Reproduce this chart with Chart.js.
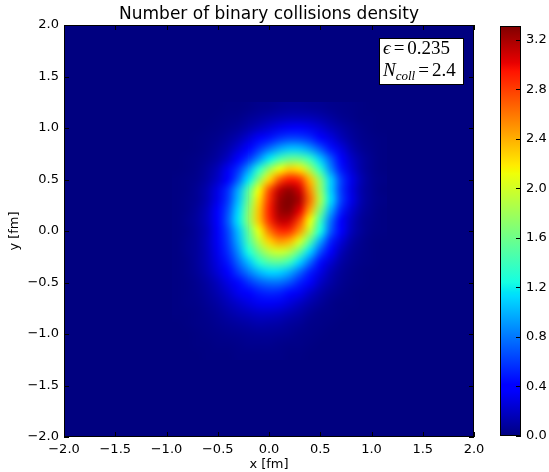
<!DOCTYPE html>
<html>
<head>
<meta charset="utf-8">
<script src="https://cdn.jsdelivr.net/npm/chart.js@4.4.1/dist/chart.umd.min.js"></script>
<style>
  body { margin: 0; background: #fff; }
  #wrap { position: relative; width: 549px; height: 472px; }
  #main { position: absolute; left: 0; top: 0; }
  #cbar { position: absolute; left: 490px; top: 0; }
</style>
</head>
<body>
<div id="wrap">
  <canvas id="main" width="490" height="472"></canvas>
  <canvas id="cbar" width="59" height="472"></canvas>
</div>
<script>
// cell centres in fm (columns left to right, rows top to bottom)
const xCenters = [-0.9, -0.8, -0.7, -0.6, -0.5, -0.4, -0.3, -0.2, -0.1, 0.0, 0.1, 0.2, 0.3, 0.4, 0.5, 0.6, 0.7, 0.8, 0.9, 1.0, 1.1];
const yCenters = [1.2, 1.1, 1.0, 0.9, 0.8, 0.7, 0.6, 0.5, 0.4, 0.3, 0.2, 0.1, 0.0, -0.1, -0.2, -0.3, -0.4, -0.5, -0.6, -0.7, -0.8, -0.9, -1.0, -1.1, -1.2];

// binary collision density, one row per yCenters entry; zero everywhere outside
const density = [
  [0, 0, 0, 0, 0, 0.01, 0.01, 0.02, 0.04, 0.05, 0.07, 0.08, 0.08, 0.07, 0.06, 0.04, 0.03, 0.02, 0.01, 0, 0],
  [0, 0, 0, 0, 0.01, 0.02, 0.03, 0.06, 0.09, 0.12, 0.15, 0.17, 0.17, 0.16, 0.13, 0.09, 0.05, 0.03, 0.01, 0.01, 0],
  [0, 0, 0, 0.01, 0.02, 0.04, 0.07, 0.12, 0.18, 0.24, 0.30, 0.34, 0.35, 0.31, 0.25, 0.17, 0.11, 0.06, 0.03, 0.01, 0],
  [0, 0, 0.01, 0.02, 0.04, 0.08, 0.14, 0.24, 0.35, 0.47, 0.57, 0.63, 0.62, 0.55, 0.42, 0.28, 0.17, 0.09, 0.04, 0.02, 0.01],
  [0, 0, 0.01, 0.03, 0.07, 0.13, 0.24, 0.39, 0.58, 0.77, 0.94, 1.04, 1.03, 0.90, 0.69, 0.47, 0.28, 0.14, 0.06, 0.03, 0.01],
  [0, 0.01, 0.02, 0.05, 0.10, 0.20, 0.36, 0.59, 0.87, 1.17, 1.42, 1.57, 1.56, 1.37, 1.05, 0.71, 0.42, 0.21, 0.10, 0.04, 0.01],
  [0, 0.01, 0.03, 0.08, 0.17, 0.33, 0.57, 0.91, 1.31, 1.76, 2.10, 2.30, 2.22, 1.82, 1.33, 0.86, 0.49, 0.25, 0.11, 0.04, 0.01],
  [0.01, 0.02, 0.04, 0.10, 0.21, 0.41, 0.72, 1.16, 1.70, 2.25, 2.70, 2.92, 2.82, 2.35, 1.70, 1.09, 0.62, 0.31, 0.14, 0.05, 0.02],
  [0.01, 0.02, 0.06, 0.14, 0.29, 0.56, 0.96, 1.50, 2.12, 2.72, 3.12, 3.24, 3.08, 2.52, 1.78, 1.10, 0.61, 0.29, 0.12, 0.05, 0.01],
  [0.01, 0.03, 0.06, 0.15, 0.31, 0.60, 1.03, 1.60, 2.24, 2.84, 3.22, 3.31, 3.18, 2.62, 1.86, 1.15, 0.63, 0.31, 0.13, 0.05, 0.02],
  [0.01, 0.03, 0.08, 0.18, 0.37, 0.67, 1.12, 1.70, 2.33, 2.90, 3.22, 3.27, 3.02, 2.42, 1.66, 0.98, 0.52, 0.24, 0.10, 0.04, 0.01],
  [0.01, 0.04, 0.09, 0.19, 0.39, 0.71, 1.16, 1.72, 2.32, 2.84, 3.12, 3.10, 2.75, 2.12, 1.40, 0.79, 0.41, 0.19, 0.07, 0.03, 0.01],
  [0.01, 0.03, 0.08, 0.17, 0.35, 0.64, 1.04, 1.55, 2.10, 2.58, 2.86, 2.84, 2.48, 1.90, 1.25, 0.71, 0.37, 0.17, 0.07, 0.02, 0.01],
  [0.01, 0.04, 0.08, 0.18, 0.34, 0.61, 0.98, 1.44, 1.90, 2.28, 2.47, 2.38, 2.02, 1.50, 0.95, 0.52, 0.26, 0.11, 0.04, 0.01, 0],
  [0.01, 0.04, 0.08, 0.17, 0.32, 0.56, 0.88, 1.26, 1.62, 1.90, 2.00, 1.88, 1.54, 1.10, 0.67, 0.36, 0.17, 0.07, 0.03, 0.01, 0],
  [0.01, 0.03, 0.08, 0.16, 0.29, 0.49, 0.75, 1.04, 1.31, 1.50, 1.54, 1.40, 1.10, 0.76, 0.45, 0.24, 0.11, 0.05, 0.02, 0.01, 0],
  [0.01, 0.03, 0.07, 0.14, 0.25, 0.41, 0.60, 0.81, 1.00, 1.11, 1.10, 0.97, 0.74, 0.50, 0.29, 0.15, 0.07, 0.03, 0.01, 0, 0],
  [0.01, 0.02, 0.05, 0.10, 0.18, 0.29, 0.43, 0.57, 0.70, 0.77, 0.77, 0.67, 0.51, 0.35, 0.20, 0.11, 0.05, 0.02, 0.01, 0, 0],
  [0.01, 0.02, 0.04, 0.08, 0.14, 0.22, 0.32, 0.41, 0.49, 0.53, 0.51, 0.43, 0.32, 0.21, 0.12, 0.06, 0.03, 0.01, 0, 0, 0],
  [0.01, 0.02, 0.03, 0.06, 0.10, 0.16, 0.22, 0.28, 0.33, 0.34, 0.32, 0.26, 0.19, 0.12, 0.07, 0.03, 0.01, 0.01, 0, 0, 0],
  [0.01, 0.01, 0.02, 0.04, 0.07, 0.11, 0.15, 0.18, 0.21, 0.21, 0.19, 0.15, 0.11, 0.06, 0.03, 0.02, 0.01, 0, 0, 0, 0],
  [0, 0.01, 0.02, 0.03, 0.05, 0.07, 0.09, 0.11, 0.13, 0.12, 0.11, 0.08, 0.06, 0.03, 0.02, 0.01, 0, 0, 0, 0, 0],
  [0, 0, 0.01, 0.02, 0.03, 0.04, 0.05, 0.06, 0.07, 0.07, 0.06, 0.05, 0.03, 0.02, 0.01, 0, 0, 0, 0, 0, 0],
  [0, 0, 0.01, 0.01, 0.02, 0.02, 0.03, 0.04, 0.04, 0.04, 0.03, 0.02, 0.02, 0.01, 0, 0, 0, 0, 0, 0, 0],
  [0, 0, 0, 0.01, 0.01, 0.01, 0.02, 0.02, 0.02, 0.02, 0.02, 0.01, 0.01, 0, 0, 0, 0, 0, 0, 0, 0]
];

const axisTicks = [-2.0, -1.5, -1.0, -0.5, 0.0, 0.5, 1.0, 1.5, 2.0];
const cbarTicks = [0.0, 0.4, 0.8, 1.2, 1.6, 2.0, 2.4, 2.8, 3.2];
const epsilon2 = '0.235';
const nColl = '2.4';

const vMax = Math.max(...density.flat());

// matplotlib "jet"
const jetRed = [[0, 0], [0.35, 0], [0.66, 1], [0.89, 1], [1, 0.5]];
const jetGreen = [[0, 0], [0.125, 0], [0.375, 1], [0.64, 1], [0.91, 0], [1, 0]];
const jetBlue = [[0, 0.5], [0.11, 1], [0.34, 1], [0.65, 0], [1, 0]];
const jetStops = [0, 0.11, 0.125, 0.34, 0.35, 0.375, 0.64, 0.65, 0.66, 0.89, 0.91, 1];

function seg(pts, t) {
    for (let i = 1; i < pts.length; i++) {
        if (t <= pts[i][0]) {
            const [t0, v0] = pts[i - 1];
            const [t1, v1] = pts[i];
            return v0 + (v1 - v0) * (t - t0) / (t1 - t0);
        }
    }
    return pts[pts.length - 1][1];
}

function jet(t) {
    t = Math.min(1, Math.max(0, t));
    return [seg(jetRed, t), seg(jetGreen, t), seg(jetBlue, t)].map(c => Math.round(c * 255));
}

const rgb = (c) => `rgb(${c[0]},${c[1]},${c[2]})`;
const fmt = (v) => (v < 0 ? '\u2212' : '') + Math.abs(v).toFixed(1);

Chart.defaults.font.family = '"DejaVu Sans", sans-serif';
Chart.defaults.font.size = 13;
Chart.defaults.color = '#000';

const cells = yCenters.flatMap((y, j) => xCenters.map((x, i) => ({ x: x, y: y, v: density[j][i] })));

const heatmapPlugin = {
    id: 'heatmap',
    beforeDatasetsDraw(chart) {
        const { ctx, chartArea: a, scales: { x, y } } = chart;
        ctx.save();
        ctx.fillStyle = rgb(jet(0));
        ctx.fillRect(a.left, a.top, a.width, a.height);

        const off = document.createElement('canvas');
        off.width = xCenters.length;
        off.height = yCenters.length;
        const octx = off.getContext('2d');
        const img = octx.createImageData(off.width, off.height);
        chart.data.datasets[0].data.forEach((c, k) => {
            const col = jet(c.v / vMax);
            img.data[k * 4] = col[0];
            img.data[k * 4 + 1] = col[1];
            img.data[k * 4 + 2] = col[2];
            img.data[k * 4 + 3] = 255;
        });
        octx.putImageData(img, 0, 0);

        const hx = (xCenters[1] - xCenters[0]) / 2;
        const hy = (yCenters[0] - yCenters[1]) / 2;
        const x0 = x.getPixelForValue(xCenters[0] - hx);
        const x1 = x.getPixelForValue(xCenters[xCenters.length - 1] + hx);
        const y0 = y.getPixelForValue(yCenters[0] + hy);
        const y1 = y.getPixelForValue(yCenters[yCenters.length - 1] - hy);
        ctx.beginPath();
        ctx.rect(a.left, a.top, a.width, a.height);
        ctx.clip();
        ctx.imageSmoothingEnabled = true;
        ctx.imageSmoothingQuality = 'high';
        ctx.drawImage(off, x0, y0, x1 - x0, y1 - y0);
        ctx.restore();
    }
};

const framePlugin = {
    id: 'frame',
    afterDraw(chart) {
        const { ctx, chartArea: a, scales: { x, y } } = chart;
        ctx.save();
        ctx.strokeStyle = '#000';
        ctx.lineWidth = 1;
        ctx.beginPath();
        axisTicks.forEach(v => {
            const px = Math.round(x.getPixelForValue(v)) + 0.5;
            ctx.moveTo(px, a.bottom); ctx.lineTo(px, a.bottom - 5);
            ctx.moveTo(px, a.top); ctx.lineTo(px, a.top + 5);
            const py = Math.round(y.getPixelForValue(v)) + 0.5;
            ctx.moveTo(a.left, py); ctx.lineTo(a.left + 5, py);
            ctx.moveTo(a.right, py); ctx.lineTo(a.right - 5, py);
        });
        ctx.stroke();
        ctx.strokeRect(a.left + 0.5, a.top + 0.5, a.width - 1, a.height - 1);

        // title
        ctx.fillStyle = '#000';
        ctx.font = '17px "DejaVu Sans", sans-serif';
        ctx.textAlign = 'center';
        ctx.textBaseline = 'alphabetic';
        ctx.fillText('Number of binary collisions density', (a.left + a.right) / 2, 19);

        // annotation box
        const bw = 85, bh = 47;
        const bx = a.right - 10 - bw, by = a.top + 13;
        ctx.fillStyle = '#fff';
        ctx.fillRect(bx, by, bw, bh);
        ctx.strokeRect(bx + 0.5, by + 0.5, bw - 1, bh - 1);

        const serif = '"Liberation Serif", "DejaVu Serif", serif';
        const draw = (parts, x0, base) => {
            let cx = x0;
            parts.forEach(p => {
                ctx.font = `${p.italic ? 'italic ' : ''}${p.size || 19}px ${serif}`;
                cx += p.gap || 0;
                ctx.fillStyle = '#000';
                ctx.textAlign = 'left';
                ctx.fillText(p.t, cx, base + (p.dy || 0));
                cx += ctx.measureText(p.t).width + (p.gapAfter || 0);
            });
        };
        draw([
            { t: '\u03F5', italic: true },
            { t: '=', gap: 3, gapAfter: 3 },
            { t: epsilon2 }
        ], bx + 4, by + 16);
        draw([
            { t: 'N', italic: true },
            { t: 'coll', italic: true, size: 13, dy: 4 },
            { t: '=', gap: 3, gapAfter: 3 },
            { t: nColl }
        ], bx + 4, by + 38);
        ctx.restore();
    }
};

new Chart(document.getElementById('main'), {
    type: 'scatter',
    data: { datasets: [{ data: cells, pointRadius: 0 }] },
    options: {
        responsive: false,
        animation: false,
        events: [],
        layout: { padding: { left: 0, right: 16, top: 25, bottom: 0 } },
        plugins: { legend: { display: false }, tooltip: { enabled: false } },
        scales: {
            x: {
                type: 'linear', min: -2, max: 2,
                grid: { display: false, drawTicks: false },
                border: { display: false },
                afterBuildTicks: s => { s.ticks = axisTicks.map(v => ({ value: v })); },
                afterFit: s => { s.height = 35; s.paddingLeft = 0; s.paddingRight = 0; },
                ticks: { padding: 5, maxRotation: 0, autoSkip: false, callback: fmt },
                title: { display: true, text: 'x [fm]', padding: { top: 0, bottom: 0 } }
            },
            y: {
                type: 'linear', min: -2, max: 2,
                grid: { display: false, drawTicks: false },
                border: { display: false },
                afterBuildTicks: s => { s.ticks = axisTicks.map(v => ({ value: v })); },
                afterFit: s => { s.width = 64; s.paddingTop = 0; s.paddingBottom = 0; },
                ticks: { padding: 5, autoSkip: false, callback: fmt },
                title: { display: true, text: 'y [fm]', padding: { top: 7, bottom: 0 } }
            }
        }
    },
    plugins: [heatmapPlugin, framePlugin]
});

const cbarPlugin = {
    id: 'cbarFill',
    afterDraw(chart) {
        const { ctx, chartArea: a, scales: { y } } = chart;
        ctx.save();
        const grad = ctx.createLinearGradient(0, y.getPixelForValue(0), 0, y.getPixelForValue(vMax));
        jetStops.forEach(t => grad.addColorStop(t, rgb(jet(t))));
        ctx.fillStyle = grad;
        ctx.fillRect(a.left, a.top, a.width, a.height);
        ctx.strokeStyle = '#000';
        ctx.lineWidth = 1;
        ctx.beginPath();
        cbarTicks.forEach(v => {
            const py = Math.round(y.getPixelForValue(v)) + 0.5;
            ctx.moveTo(a.right, py); ctx.lineTo(a.right - 5, py);
        });
        ctx.stroke();
        ctx.strokeRect(a.left + 0.5, a.top + 0.5, a.width - 1, a.height - 1);
        ctx.restore();
    }
};

new Chart(document.getElementById('cbar'), {
    type: 'scatter',
    data: { datasets: [] },
    options: {
        responsive: false,
        animation: false,
        events: [],
        layout: { padding: { left: 10, right: 0, top: 26, bottom: 36 } },
        plugins: { legend: { display: false }, tooltip: { enabled: false } },
        scales: {
            x: { display: false },
            y: {
                position: 'right', min: 0, max: vMax,
                grid: { display: false, drawTicks: false },
                border: { display: false },
                afterBuildTicks: s => { s.ticks = cbarTicks.map(v => ({ value: v })); },
                afterFit: s => { s.width = 28; s.paddingTop = 0; s.paddingBottom = 0; },
                ticks: { padding: 5, autoSkip: false, callback: v => v.toFixed(1) }
            }
        }
    },
    plugins: [cbarPlugin]
});
</script>
</body>
</html>
